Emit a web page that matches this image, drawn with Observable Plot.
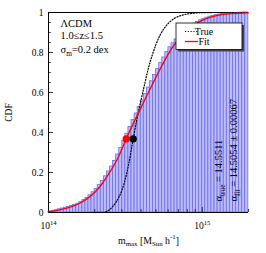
<!DOCTYPE html>
<html><head><meta charset="utf-8">
<script src="https://cdn.jsdelivr.net/npm/d3@7"></script>
<script src="https://cdn.jsdelivr.net/npm/@observablehq/plot@0.6"></script>
<style>body{margin:0;background:#fff} #chart svg{display:block}</style>
</head><body><div id="chart"></div>
<script>
// ---- data ----
const fitLogM = [14.00,14.05,14.10,14.15,14.20,14.25,14.30,14.35,14.40,14.45,14.5054,14.55,14.60,14.65,14.70,14.75,14.80,14.85,14.90,14.95,15.00,15.05,15.10,15.20,15.30];
const fitCDF  = [0.004,0.009,0.018,0.029,0.045,0.068,0.100,0.145,0.203,0.270,0.368,0.442,0.522,0.600,0.678,0.752,0.818,0.870,0.910,0.940,0.961,0.976,0.986,0.994,0.998];
const trueLogM = [14.30,14.36,14.38,14.40,14.42,14.44,14.46,14.48,14.50,14.52,14.5511,14.575,14.60,14.625,14.65,14.675,14.70,14.725,14.75,14.80,14.85,14.90,14.95,15.00,15.10,15.30];
const trueCDF  = [0,0.001,0.006,0.016,0.032,0.053,0.080,0.117,0.168,0.235,0.368,0.465,0.555,0.640,0.722,0.787,0.842,0.886,0.918,0.960,0.982,0.992,0.997,0.999,1.0,1.0];
const histStartLogM = 14.0, histBinWidth = 0.02;
const histCDF = [0.005,0.008,0.012,0.016,0.020,0.024,0.028,0.033,0.038,0.044,0.052,0.062,0.073,0.086,0.101,0.118,0.137,0.158,0.181,0.205,0.230,0.258,0.290,0.322,0.358,0.394,0.428,0.462,0.495,0.528,0.560,0.592,0.625,0.656,0.688,0.718,0.747,0.775,0.802,0.826,0.846,0.865,0.882,0.897,0.911,0.923,0.934,0.944,0.953,0.961,0.968,0.974,0.979,0.983,0.987,0.990,0.992,0.994,0.995,0.996,0.997,0.998,0.999,1.0,1.0];
const markerNames = ["fit","true"];
const markerLogM = [14.5054, 14.5511];
const markerCDF = 0.368;
const yTickValues = [0,0.2,0.4,0.6,0.8,1];
const yTickLabels = ["0","0.2","0.4","0.6","0.8","1"];
const yMinorValues = [0.05,0.1,0.15,0.25,0.3,0.35,0.45,0.5,0.55,0.65,0.7,0.75,0.85,0.9,0.95];
const xTickValues = [1e14,1e15];
const xTickLabels = ["10^{14}","10^{15}"];
const xMinorValues = [2e14,3e14,4e14,5e14,6e14,7e14,8e14,9e14,2e15];
const annotations = ["ΛCDM","1.0≤z≤1.5","σ_{m}=0.2 dex"];
const alphaLabels = ["α_{true} = 14.5511","α_{fit} = 14.5054 ± 0.00067"];
const xLabel = "m_{max} [M_{Sun} h^{-1}]";
const yLabel = "CDF";
const legendItems = ["True","Fit"];

// ---- layout ----
const W = 266, H = 253, mL = 48, mR = 18, mT = 12, mB = 41;
const pw = W - mL - mR, ph = H - mT - mB;
const FONT = "Liberation Serif";
const barFill = "#bcbcff", barStroke = "#6c6cea";
const annoDy = [14, 26, 40];
const dotted = "1.1,1.7";

const fitData = fitLogM.map((l,i)=>({m:10**l, c:fitCDF[i]}));
const trueData = trueLogM.map((l,i)=>({m:10**l, c:trueCDF[i]}));
const bins = histCDF.map((h,i)=>({m1:10**(histStartLogM+i*histBinWidth), m2:10**(histStartLogM+(i+1)*histBinWidth), c:h}));
const markers = markerNames.map((n,i)=>({m:10**markerLogM[i], color: n==="fit" ? "#ff0000" : "#000000"}));

const plot = Plot.plot({
  width: W, height: H,
  marginLeft: mL, marginRight: mR, marginTop: mT, marginBottom: mB,
  style: {fontFamily: FONT, background: "#fff", overflow: "visible"},
  x: {type: "log", domain: [1e14, 2e15], axis: null},
  y: {domain: [0, 1], axis: null},
  marks: [
    Plot.ruleY([1], {stroke: "#000", strokeWidth: 1}),
    Plot.rect(bins, {x1: "m1", x2: "m2", y1: 0, y2: "c", fill: barFill, stroke: barStroke, strokeWidth: 0.8}),
    Plot.ruleY([0], {stroke: "#000", strokeWidth: 1}),
    Plot.ruleX([1e14], {stroke: "#000", strokeWidth: 1}),
    Plot.tickY(yTickValues, {y: d=>d, insetRight: pw-5, stroke: "#000", strokeWidth: 0.8}),
    Plot.tickY(yMinorValues, {y: d=>d, insetRight: pw-3, stroke: "#000", strokeWidth: 0.7}),
    Plot.tickX(xTickValues, {x: d=>d, insetTop: ph-5, stroke: "#000", strokeWidth: 0.8}),
    Plot.tickX(xMinorValues, {x: d=>d, insetTop: ph-3, stroke: "#000", strokeWidth: 0.7}),
    Plot.line(trueData, {x: "m", y: "c", stroke: "#000", strokeWidth: 1.2, strokeDasharray: dotted, curve: "monotone-x"}),
    Plot.line(fitData, {x: "m", y: "c", stroke: "#ff0000", strokeWidth: 1.3, curve: "monotone-x"}),
    Plot.dot(markers, {x: "m", y: markerCDF, r: 3.6, fill: "color", stroke: "none"}),
    Plot.text(yTickValues, {y: d=>d, text: (d,i)=>yTickLabels[i], frameAnchor: "left", dx: -5, textAnchor: "end", lineAnchor: "middle", fontSize: 9.5, fill: "#000"}),
    Plot.text(xTickValues, {x: d=>d, text: (d,i)=>xTickLabels[i], frameAnchor: "bottom", dy: 16, textAnchor: "middle", lineAnchor: "bottom", fontSize: 9.5, fill: "#000"}),
    Plot.text([xLabel], {frameAnchor: "bottom", dy: 31, textAnchor: "middle", lineAnchor: "bottom", fontSize: 9.8, fill: "#000"}),
    Plot.text([yLabel], {frameAnchor: "left", dx: -37, rotate: -90, textAnchor: "middle", lineAnchor: "bottom", fontSize: 9.5, fill: "#000"}),
    ...annotations.map((a, i) => Plot.text([a], {frameAnchor: "top-left", dx: 12, dy: annoDy[i], fontSize: 10.5, fill: "#000", textAnchor: "start", lineAnchor: "bottom"})),
    Plot.text([alphaLabels[0]], {frameAnchor: "bottom-left", dx: 173, dy: -11, rotate: -90, textAnchor: "start", lineAnchor: "bottom", fontSize: 10.5, fill: "#000"}),
    Plot.text([alphaLabels[1]], {frameAnchor: "bottom-left", dx: 188.5, dy: -11, rotate: -90, textAnchor: "start", lineAnchor: "bottom", fontSize: 10.5, fill: "#000"})
  ]
});

// sub/superscripts as real tspans
function richify(root){
  const ns = "http://www.w3.org/2000/svg";
  root.querySelectorAll("text").forEach(el=>{
    const s = el.textContent;
    if(!/[\^_]\{/.test(s)) return;
    while(el.firstChild) el.removeChild(el.firstChild);
    const re = /([\^_])\{([^}]*)\}|([^\^_]+)/g;
    let m, shift = 0;
    while((m = re.exec(s))){
      const ts = document.createElementNS(ns, "tspan");
      if (m[3] !== undefined) {
        ts.textContent = m[3];
        if (shift) { ts.setAttribute("dy", (-shift) + "em"); shift = 0; }
      } else {
        ts.textContent = m[2];
        ts.setAttribute("font-size", "70%");
        const target = m[1] === "^" ? -0.42 : 0.3;
        ts.setAttribute("dy", ((target - shift) / 0.70) + "em");
        shift = target;
      }
      el.appendChild(ts);
    }
  });
}
richify(plot);

// legend box (inside plot, pixel layout)
const svg = d3.select(plot);
const lg = svg.append("g").attr("font-family", FONT).attr("font-size", 10);
lg.append("rect").attr("x", 178).attr("y", 25).attr("width", 66).attr("height", 26.5).attr("fill", "#444");
lg.append("rect").attr("x", 176).attr("y", 23).attr("width", 66).attr("height", 26.5).attr("fill", "#fff").attr("stroke", "#000").attr("stroke-width", 0.8);
legendItems.forEach((name, i)=>{
  const y = 31.5 + i*10;
  lg.append("line").attr("x1", 185).attr("x2", 198).attr("y1", y).attr("y2", y)
    .attr("stroke", name === "Fit" ? "#ff0000" : "#000")
    .attr("stroke-width", name === "Fit" ? 1.3 : 1.2)
    .attr("stroke-dasharray", name === "Fit" ? null : dotted);
  lg.append("text").attr("x", 204).attr("y", y + 3.4).attr("fill", "#000").text(name);
});

document.getElementById("chart").appendChild(plot);
</script>
</body></html>
